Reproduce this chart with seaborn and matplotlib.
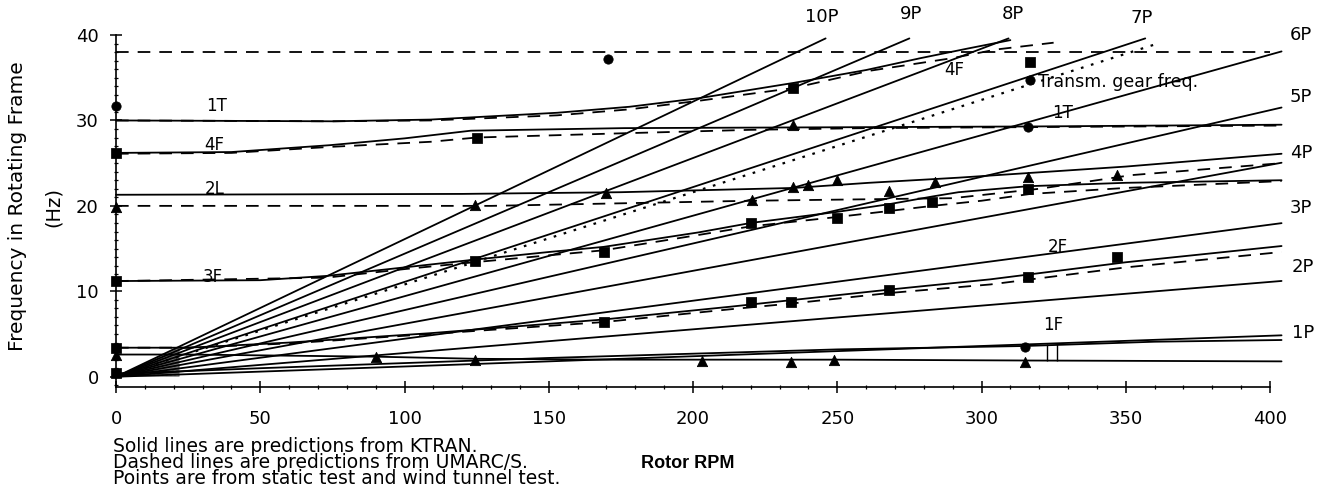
import numpy as np
import pandas as pd
import matplotlib
matplotlib.use("Agg")
import matplotlib.pyplot as plt
from matplotlib.ticker import MultipleLocator
import seaborn as sns

# ---------------- data ----------------
x_ticks = [0, 50, 100, 150, 200, 250, 300, 350, 400]
y_ticks = [0, 10, 20, 30, 40]

# per-rev excitation lines: frequency reached at 400 rpm (as drawn)
per_rev_orders = [1, 2, 3, 4, 5, 6, 7, 8, 9, 10]
per_rev_hz_at_400 = [4.8, 11.1, 17.8, 24.8, 31.2, 37.7, 44.4, 51.2, 57.6, 64.4]
per_rev_top_hz = 39.6
per_rev_max_rpm = 404

# transmission gear frequency (dotted)
gear_rpm = [0, 362]
gear_hz = [0, 39.1]

# KTRAN (solid) mode curves
k_1t_rpm = [0, 75, 109, 153, 178, 202, 235, 260, 279, 295, 310]
k_1t_hz = [30.0, 29.9, 30.1, 30.9, 31.6, 32.6, 34.4, 35.9, 37.3, 38.4, 39.4]
k_4f_rpm = [0, 40, 74, 100, 123, 176, 250, 320, 404]
k_4f_hz = [26.2, 26.3, 27.1, 27.9, 28.8, 29.1, 29.2, 29.3, 29.5]
k_2l_rpm = [0, 120, 175, 235, 261, 292, 350, 404]
k_2l_hz = [21.3, 21.4, 21.6, 22.1, 22.7, 23.3, 24.6, 26.1]
k_3f_rpm = [0, 50, 73, 100, 124, 150, 169, 202, 220, 250, 268, 283, 292, 316, 350, 404]
k_3f_hz = [11.2, 11.3, 11.8, 12.8, 13.7, 14.6, 15.2, 16.9, 18.0, 19.3, 20.2, 21.1, 21.6, 22.3, 22.7, 23.0]
k_2f_rpm = [0, 25, 60, 109, 169, 213, 235, 268, 303, 350, 404]
k_2f_hz = [3.4, 3.4, 4.0, 5.1, 6.7, 8.2, 9.0, 10.2, 11.4, 13.4, 15.3]
k_1l_rpm = [0, 25, 90, 125, 170, 250, 316, 404]
k_1l_hz = [2.6, 2.6, 2.35, 2.1, 2.0, 2.0, 1.9, 1.8]
k_1f_rpm = [0, 20, 50, 100, 150, 200, 250, 315, 360, 404]
k_1f_hz = [0.4, 0.6, 1.0, 1.6, 2.2, 2.7, 3.2, 3.6, 4.1, 4.3]

# UMARC/S (dashed) mode curves
u_top_rpm = [0, 400]
u_top_hz = [38.0, 38.0]
u_1t_rpm = [0, 75, 109, 153, 178, 202, 235, 261, 290, 305, 325]
u_1t_hz = [30.0, 29.9, 30.0, 30.6, 31.3, 32.3, 33.8, 35.8, 37.3, 38.3, 39.1]
u_4f_rpm = [0, 40, 74, 109, 125, 176, 220, 260, 404]
u_4f_hz = [26.1, 26.2, 26.9, 27.5, 28.0, 28.5, 28.9, 29.1, 29.4]
u_2l_rpm = [0, 130, 220, 290, 320, 352, 404]
u_2l_hz = [20.0, 20.0, 20.6, 20.9, 22.0, 23.6, 25.0]
u_3f_rpm = [0, 73, 100, 124, 169, 202, 220, 250, 268, 283, 300, 317, 350, 404]
u_3f_hz = [11.2, 11.6, 12.6, 13.4, 14.8, 16.6, 17.6, 18.7, 19.4, 20.0, 20.6, 21.4, 22.1, 22.9]
u_2f_rpm = [0, 25, 60, 109, 169, 213, 235, 268, 303, 350, 404]
u_2f_hz = [3.4, 3.4, 3.9, 5.0, 6.4, 7.9, 8.6, 9.8, 10.8, 12.8, 14.6]

# test points
sq_rpm = [0, 0, 0, 0, 124.4, 125, 169, 169, 220, 220, 234, 234.7, 250, 268, 268, 283, 316, 316, 316.8, 347]
sq_hz = [26.2, 11.2, 3.4, 0.4, 13.5, 28.0, 14.6, 6.4, 18.0, 8.7, 8.8, 33.8, 18.6, 19.8, 10.2, 20.4, 22.0, 11.7, 36.8, 14.0]
tri_rpm = [0, 124.4, 170, 220.5, 234.7, 240, 250, 268, 284, 316, 347, 234.7, 0, 90, 124.4, 203, 234, 249, 315]
tri_hz = [19.9, 20.1, 21.5, 20.7, 22.2, 22.4, 23.0, 21.7, 22.8, 23.4, 23.6, 29.5, 2.6, 2.3, 2.0, 1.8, 1.75, 2.0, 1.75]
circ_rpm = [0, 170.5, 316.8, 316, 315]
circ_hz = [31.7, 37.2, 34.7, 29.2, 3.5]

bracket_rpm = [322.7, 326.2]
bracket_lo, bracket_hi = 1.9, 3.8

# ---------------- build tables ----------------
def long_table(named):
    rows = []
    for name, (r, h) in named.items():
        for i, (a, b) in enumerate(zip(r, h)):
            rows.append({"curve": name, "order": i, "rpm": a, "hz": b})
    return pd.DataFrame(rows)

solid = long_table({"1T": (k_1t_rpm, k_1t_hz), "4F": (k_4f_rpm, k_4f_hz),
                    "2L": (k_2l_rpm, k_2l_hz), "3F": (k_3f_rpm, k_3f_hz),
                    "2F": (k_2f_rpm, k_2f_hz), "1L": (k_1l_rpm, k_1l_hz),
                    "1F": (k_1f_rpm, k_1f_hz)})
dashed = long_table({"top": (u_top_rpm, u_top_hz), "1T": (u_1t_rpm, u_1t_hz),
                     "4F": (u_4f_rpm, u_4f_hz), "2L": (u_2l_rpm, u_2l_hz),
                     "3F": (u_3f_rpm, u_3f_hz), "2F": (u_2f_rpm, u_2f_hz)})

pr = {}
for n, v in zip(per_rev_orders, per_rev_hz_at_400):
    slope = v / 400.0
    x_end = min(per_rev_max_rpm, per_rev_top_hz / slope)
    pr[f"{n}P"] = ([0, x_end], [0, slope * x_end])
per_rev = long_table(pr)
gear = long_table({"gear": (gear_rpm, gear_hz)})

# ---------------- plot ----------------
sns.set_theme(style="ticks")
plt.rcParams["font.family"] = ["DejaVu Sans"]
plt.rcParams["text.color"] = "black"
plt.rcParams["axes.labelcolor"] = "black"

fig = plt.figure(figsize=(13.36, 4.99), dpi=100)
ax = fig.add_axes([116 / 1336, 1 - 387 / 499, 1154 / 1336, (387 - 35) / 499])

lw = 1.3
sns.lineplot(data=per_rev, x="rpm", y="hz", units="curve", estimator=None, sort=False,
             color="black", lw=lw, ax=ax, clip_on=False)
sns.lineplot(data=solid, x="rpm", y="hz", units="curve", estimator=None, sort=False,
             color="black", lw=lw, ax=ax, clip_on=False)
sns.lineplot(data=dashed, x="rpm", y="hz", units="curve", estimator=None, sort=False,
             color="black", lw=lw, ax=ax, clip_on=False, linestyle=(0, (7, 5)))
sns.lineplot(data=gear, x="rpm", y="hz", units="curve", estimator=None, sort=False,
             color="black", lw=1.6, ax=ax, clip_on=False, linestyle=(0, (1.2, 3.5)))

# dense fan near the origin
s10 = per_rev_hz_at_400[-1] / 400.0
xf = np.array([0, 22])
ax.fill_between(xf, 0, s10 * xf, color="0.35", alpha=0.8, hatch="....", lw=0)

# bracket marks near 1F
ax.vlines(bracket_rpm, bracket_lo, bracket_hi, color="black", lw=1.0)

sns.scatterplot(x=sq_rpm, y=sq_hz, marker="s", color="black", s=45, ax=ax,
                zorder=5, clip_on=False, edgecolor="black")
sns.scatterplot(x=tri_rpm, y=tri_hz, marker="^", color="black", s=55, ax=ax,
                zorder=5, clip_on=False, edgecolor="black")
sns.scatterplot(x=circ_rpm, y=circ_hz, marker="o", color="black", s=45, ax=ax,
                zorder=5, clip_on=False, edgecolor="black")

ax.set_xlim(0, 400)
ax.set_ylim(-1.2, 40)
ax.set_xticks(x_ticks)
ax.set_yticks(y_ticks)
ax.xaxis.set_minor_locator(MultipleLocator(10))
ax.yaxis.set_minor_locator(MultipleLocator(1))
ax.tick_params(axis="both", which="major", direction="inout", length=9, width=1.1,
               colors="black", labelsize=13)
ax.tick_params(axis="both", which="minor", direction="inout", length=3, width=0.9,
               colors="black")
ax.tick_params(axis="x", which="major", pad=12)
ax.tick_params(axis="y", which="major", pad=8)
sns.despine(ax=ax)
for sp in ("left", "bottom"):
    ax.spines[sp].set_color("black")
    ax.spines[sp].set_linewidth(1.2)
ax.set_xlabel("")
ax.set_ylabel("")

# per-rev labels
lab_kw = dict(fontsize=13, color="black", ha="center", va="center", clip_on=False)
for t, x, y in [("10P", 244.7, 42.1), ("9P", 275.6, 42.5), ("8P", 311, 42.5), ("7P", 355.6, 42.0),
                ("6P", 410.7, 40.0), ("5P", 410.7, 32.7), ("4P", 410.7, 26.2),
                ("3P", 410.7, 19.8), ("2P", 411.4, 12.9), ("1P", 411.4, 5.1)]:
    ax.text(x, y, t, **lab_kw)

# mode labels
for t, x, y in [("1T", 34.9, 31.7), ("4F", 34, 27.1), ("2L", 34.3, 22.0), ("3F", 33.6, 11.7),
                ("4F", 290.5, 35.9), ("1T", 328, 30.9), ("2F", 326.5, 15.2), ("1F", 325, 6.1)]:
    ax.text(x, y, t, fontsize=12, ha="center", va="center", color="black")
ax.text(319.6, 34.5, "Transm. gear freq.", fontsize=12.5, ha="left", va="center", color="black")

# axis titles and notes
fig.text(18 / 1336, 1 - 206 / 499, "Frequency in Rotating Frame", rotation=90,
         ha="center", va="center", fontsize=14.5, color="black")
fig.text(53 / 1336, 1 - 207 / 499, "(Hz)", rotation=90, ha="center", va="center",
         fontsize=14, color="black")
fig.text(688 / 1336, 1 - 463 / 499, "Rotor RPM", ha="center", va="center", fontsize=13,
         fontweight="bold", family="Liberation Sans", color="black")
for i, line in enumerate(["Solid lines are predictions from KTRAN.",
                          "Dashed lines are predictions from UMARC/S.",
                          "Points are from static test and wind tunnel test."]):
    fig.text(113 / 1336, 1 - (446 + 16.5 * i) / 499, line, ha="left", va="center",
             fontsize=13.5, color="black")

fig.savefig("out.png", dpi=100)
